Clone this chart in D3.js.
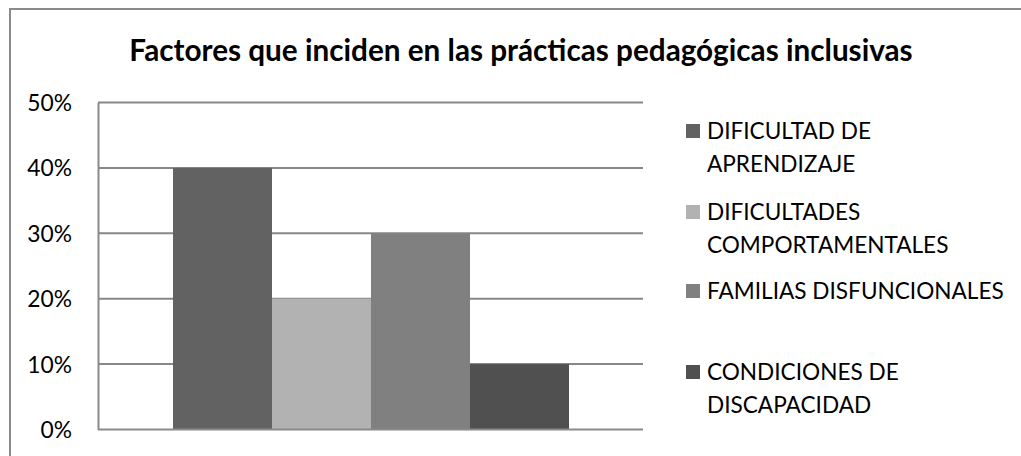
<!DOCTYPE html>
<html>
<head>
<meta charset="utf-8">
<script src="https://cdn.jsdelivr.net/npm/d3@7"></script>
<style>
  body { margin: 0; background: #fff; }
  text { font-family: Lato, "Open Sans", sans-serif; fill: #000; }
</style>
</head>
<body>
<div id="chart"></div>
<script>
// data
var categories = ["DIFICULTAD DE APRENDIZAJE", "DIFICULTADES COMPORTAMENTALES", "FAMILIAS DISFUNCIONALES", "CONDICIONES DE DISCAPACIDAD"]
var values = [0.40, 0.20, 0.30, 0.10]
var legendLines = [["DIFICULTAD DE", "APRENDIZAJE"], ["DIFICULTADES", "COMPORTAMENTALES"], ["FAMILIAS DISFUNCIONALES"], ["CONDICIONES DE", "DISCAPACIDAD"]]
var yTicks = [0, 0.1, 0.2, 0.3, 0.4, 0.5]
var colors = ["#626262", "#b2b2b2", "#808080", "#505050"]
var title = "Factores que inciden en las prácticas pedagógicas inclusivas"

const width = 1021
const height = 456
const plot = { left: 98, right: 643, top: 102.5, bottom: 429.5 }

const svg = d3.select('#chart').append('svg')
    .attr('width', width)
    .attr('height', height)

// outer chart border (runs off the right and bottom edge)
svg.append('rect')
    .attr('x', 10).attr('y', 9)
    .attr('width', 1030).attr('height', 470)
    .attr('fill', 'none')
    .attr('stroke', '#8a8a8a')
    .attr('stroke-width', 2)

svg.append('text')
    .attr('x', 521).attr('y', 61)
    .attr('text-anchor', 'middle')
    .attr('font-weight', 'bold')
    .attr('font-size', 29.7)
    .text(title)

const y = d3.scaleLinear().domain([0, 0.5]).range([plot.bottom, plot.top])
const x = d3.scaleBand().domain(d3.range(1)).range([plot.left, plot.right]).paddingInner(0).paddingOuter(0)
// one category group, the 4 series side by side
const xs = d3.scaleBand().domain(categories).range([x(0) + 75, x(0) + x.bandwidth() - 74])

// gridlines
svg.append('g')
    .selectAll('line')
    .data(yTicks.slice(1))
    .join('line')
    .attr('x1', plot.left).attr('x2', plot.right)
    .attr('y1', d => y(d)).attr('y2', d => y(d))
    .attr('stroke', '#878787')
    .attr('stroke-width', 2)

// y axis
const yAxis = svg.append('g')
    .attr('transform', `translate(${plot.left},0)`)
    .call(d3.axisLeft(y).tickValues(yTicks).tickFormat(d3.format('.0%')).tickSize(0).tickPadding(26))
yAxis.select('.domain').attr('stroke', '#8a8a8a').attr('stroke-width', 2)
yAxis.selectAll('text')
    .attr('font-size', 22.8)
    .attr('dy', '0.35em')
    .style('font-family', 'Lato, "Open Sans", sans-serif')

// bars
svg.append('g')
    .selectAll('rect')
    .data(values)
    .join('rect')
    .attr('x', (d, i) => xs(categories[i]))
    .attr('width', xs.bandwidth())
    .attr('y', d => y(d))
    .attr('height', d => y(0) - y(d))
    .attr('fill', (d, i) => colors[i])

// baseline
svg.append('line')
    .attr('x1', plot.left).attr('x2', plot.right)
    .attr('y1', y(0)).attr('y2', y(0))
    .attr('stroke', '#8a8a8a')
    .attr('stroke-width', 2)

// legend
const legendY = [139, 220, 299, 380]
const legend = svg.append('g')
    .selectAll('g')
    .data(legendLines)
    .join('g')
    .attr('transform', (d, i) => `translate(686,${legendY[i]})`)

legend.append('rect')
    .attr('x', 0).attr('y', -15)
    .attr('width', 14).attr('height', 14)
    .attr('fill', (d, i) => colors[i])

legend.append('text')
    .attr('x', 21)
    .attr('font-size', 22.6)
    .selectAll('tspan')
    .data(d => d)
    .join('tspan')
    .attr('x', 21)
    .attr('dy', (d, i) => i == 0 ? 0 : 32.5)
    .text(d => d)
</script>
</body>
</html>
